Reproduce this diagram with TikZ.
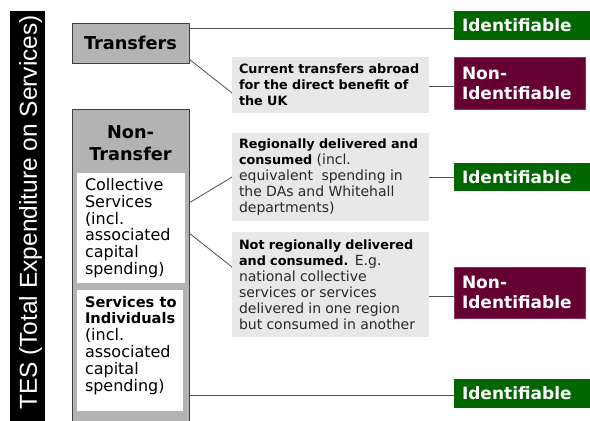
\documentclass[tikz,border=0pt]{standalone}
\usepackage{fontspec}
\setmainfont{DejaVu Sans}
\newfontfamily\arialf{Liberation Sans}
\definecolor{idgreen}{RGB}{0,102,0}
\definecolor{nidred}{RGB}{102,0,51}
\definecolor{nidedge}{RGB}{140,50,95}
\definecolor{midgray}{RGB}{179,179,179}
\definecolor{paleGray}{RGB}{232,232,232}
\definecolor{edgegray}{RGB}{64,64,64}
\definecolor{linegray}{RGB}{80,80,80}
\definecolor{txtgray}{RGB}{40,40,40}
\newcommand\bsm{\fontsize{12.8}{15.9}\selectfont\bfseries\color{black}}
\newcommand\rsm{\fontsize{14}{15.9}\selectfont\mdseries\color{txtgray}}
\lineskiplimit=-30pt
\begin{document}
\begin{tikzpicture}[x=1pt,y=-1pt,
  box/.style={inner sep=0pt, outer sep=0pt, anchor=north west},
  idbox/.style={box, text=white, font=\fontsize{17}{20}\selectfont\bfseries,
    minimum width=136pt, text width=120pt, inner xsep=8pt, align=left},
  graybox/.style={box, fill=paleGray, minimum width=197pt, text width=183pt,
    inner xsep=7pt, align=left, font=\fontsize{12.8}{15.9}\selectfont},
  whitebox/.style={box, fill=white, minimum width=106pt, text width=92pt,
    inner xsep=8pt, align=left, font=\fontsize{16}{16.8}\selectfont},
  catbox/.style={box, fill=midgray, draw=edgegray, line width=0.8pt, minimum width=117pt},
  conn/.style={draw=linegray, line width=0.8pt}]
\clip (0,0) rectangle (590,421);
\fill[white] (0,0) rectangle (590,421);

% TES bar
\node[box, fill=black, minimum width=35pt, minimum height=415pt] (tesbar) at (10,11) {};
\node[rotate=90, text=white, inner sep=0pt, font=\arialf\fontsize{24.5}{24.5}\selectfont] (tes) at (30.5,212.5) {TES (Total Expenditure on Services)};

% Transfers
\node[catbox, minimum height=40pt, font=\fontsize{17.7}{20}\selectfont\bfseries] (tr) at (72,23) {Transfers};
\node[idbox, fill=idgreen, minimum height=29pt] (id1) at (454,11) {Identifiable};
\node[graybox, minimum height=56pt] (ct) at (232,57) {\bsm Current transfers abroad\\for the direct benefit of\\the UK};
\node[idbox, fill=nidred, draw=nidedge, line width=0.6pt, minimum width=131pt, text width=115pt, minimum height=52pt] (nid1) at (454,57) {Non-\\Identifiable};

% Non-Transfer
\node[catbox, minimum height=330pt] (nt) at (72,109) {};
\node[align=center, inner sep=0pt, font=\fontsize{17.7}{22}\selectfont\bfseries] (ntlabel) at (130.5,143) {Non-\\Transfer};
\node[whitebox, minimum height=110pt] (col) at (77,173) {Collective\\Services\\(incl.\\associated\\capital\\spending)};
\node[box, fill=white, minimum width=106pt, minimum height=121pt] (ind) at (77,290) {};
\node[box, align=left, text width=96pt, font=\fontsize{16}{16.8}\selectfont] (indtext) at ([xshift=8pt,yshift=-6pt]ind.north west) {\fontsize{14.6}{16.8}\selectfont\bfseries Services to\\Individuals\\\fontsize{16}{16.8}\selectfont\mdseries (incl.\\associated\\capital\\spending)};

\node[graybox, minimum height=88pt] (reg) at (232,133) {\bsm Regionally delivered and\\consumed \rsm(incl.\\equivalent\ \ spending in\\the DAs and Whitehall\\departments)};
\node[graybox, minimum height=105pt] (nr) at (232,232) {\bsm Not regionally delivered\\and consumed. \rsm E.g.\\national collective\\services or services\\delivered in one region\\but consumed in another};

\node[idbox, fill=idgreen, minimum height=28pt] (id2) at (454,163) {Identifiable};
\node[idbox, fill=nidred, draw=nidedge, line width=0.6pt, minimum width=131pt, text width=115pt, minimum height=51pt] (nid2) at (454,267) {Non-\\Identifiable};
\node[idbox, fill=idgreen, minimum height=29pt] (id3) at (454,379) {Identifiable};

% connectors
\draw[conn] ([yshift=-5pt]tr.north east) -- ([yshift=-5pt]tr.north east -| id1.west);
\draw[conn] ([yshift=4pt]tr.south east) -- ([yshift=-8pt]ct.west);
\draw[conn] ([yshift=-1pt]ct.east) -- ([yshift=-1pt]ct.east -| nid1.west);
\draw[conn] ([yshift=-94pt]nt.north east) -- (reg.west);
\draw[conn] ([yshift=-124pt]nt.north east) -- ([yshift=17.5pt]nr.west);
\draw[conn] (reg.east) -- (reg.east -| id2.west);
\draw[conn] ([yshift=-11.5pt]nr.east) -- ([yshift=-11.5pt]nr.east -| nid2.west);
\draw[conn] ([yshift=-286pt]nt.north east) -- ([yshift=-286pt]nt.north east -| id3.west);
\end{tikzpicture}
\end{document}
